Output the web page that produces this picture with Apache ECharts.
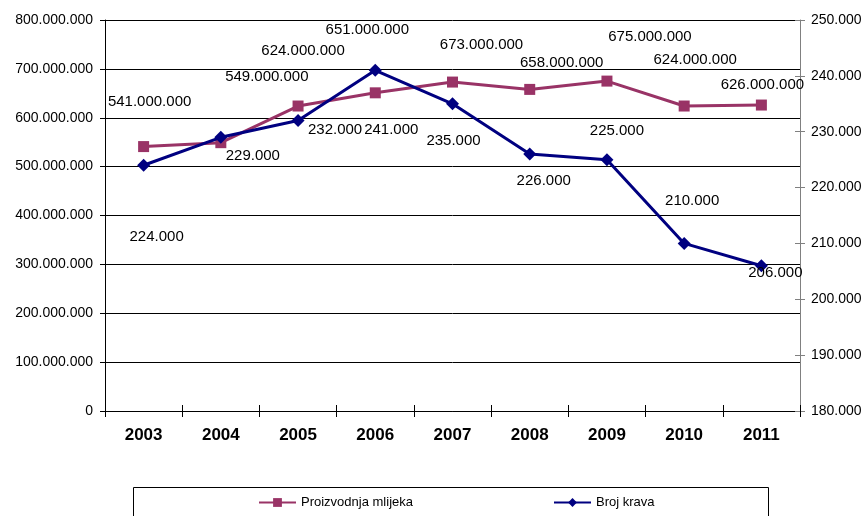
<!DOCTYPE html>
<html><head><meta charset="utf-8">
<script src="https://cdn.jsdelivr.net/npm/echarts@6/dist/echarts.min.js"></script>
<style>html,body{margin:0;padding:0;background:#fff}#c{width:867px;height:516px}</style>
</head><body><div id="c"></div>
<script>
const years = ['2003','2004','2005','2006','2007','2008','2009','2010','2011'];
const milkProduction = [541000000,549000000,624000000,651000000,673000000,658000000,675000000,624000000,626000000];
const cowCount = [224000,229000,232000,241000,235000,226000,225000,210000,206000];
const milkName = 'Proizvodnja mlijeka';
const cowName = 'Broj krava';
const milkLabelOffsets = [[6,-45],[46,-66],[5,-55],[-8,-63],[29,-37],[32,-27],[43,-44],[11,-46],[1,-20]];
const cowLabelOffsets = [[13,72],[32,19],[37,9],[16,60],[1,37],[14,27],[10,-29],[8,-43],[14,7]];

function fmt(v){ return String(v).replace(/\B(?=(\d{3})+(?!\d))/g,'.'); }
const FONT = '"Liberation Sans", Arial, sans-serif';
const chart = echarts.init(document.getElementById('c'));
const labelStyle = {show:true, position:'inside', fontFamily:FONT, fontSize:15, color:'#000', formatter:p=>fmt(p.value)};
chart.setOption({
  animation:false,
  textStyle:{fontFamily:FONT},
  grid:{left:105, right:67, top:20, bottom:105},
  legend:[
    {data:[milkName], left:258, top:496, itemWidth:37, itemHeight:11, textStyle:{fontSize:13, color:'#000', fontFamily:FONT}, itemGap:0, padding:0},
    {data:[cowName], left:553, top:496, itemWidth:37, itemHeight:11, textStyle:{fontSize:13, color:'#000', fontFamily:FONT}, itemGap:0, padding:0}
  ],
  graphic:[{type:'rect', shape:{x:133.5, y:487.5, width:635, height:40}, style:{fill:'none', stroke:'#000', lineWidth:1}, silent:true}],
  xAxis:[
    {type:'category', data:years, boundaryGap:true,
     axisLine:{lineStyle:{color:'#000', width:1}},
     axisTick:{show:true, length:6, lineStyle:{color:'#000'}},
     axisLabel:{fontSize:17, fontWeight:'bold', color:'#000', margin:16, fontFamily:FONT}},
    {type:'category', data:years, boundaryGap:true, position:'bottom',
     axisLine:{show:false}, axisTick:{show:true, inside:true, length:6, lineStyle:{color:'#000'}},
     axisLabel:{show:false}}
  ],
  yAxis:[
    {type:'value', min:0, max:800000000, interval:100000000,
     axisLine:{show:true, lineStyle:{color:'#000'}},
     axisTick:{show:true, length:5, lineStyle:{color:'#000'}},
     splitLine:{show:true, lineStyle:{color:'#000', width:1}},
     axisLabel:{fontSize:14, color:'#000', margin:12, formatter:fmt, fontFamily:FONT}},
    {type:'value', min:180000, max:250000, interval:10000, position:'right',
     axisLine:{show:true, lineStyle:{color:'#808080'}},
     axisTick:{show:true, length:5, lineStyle:{color:'#808080'}},
     splitLine:{show:false},
     axisLabel:{fontSize:14, color:'#000', margin:11, formatter:fmt, fontFamily:FONT}},
    {type:'value', min:180000, max:250000, interval:10000, position:'right', offset:0,
     axisLine:{show:false}, axisTick:{show:true, inside:true, length:5, lineStyle:{color:'#808080'}},
     splitLine:{show:false}, axisLabel:{show:false}},
    {type:'value', min:0, max:800000000, interval:100000000, position:'left',
     axisLine:{show:false}, axisTick:{show:true, inside:true, length:5, lineStyle:{color:'#000'}},
     splitLine:{show:false}, axisLabel:{show:false}}
  ],
  series:[
    {name:milkName, type:'line', yAxisIndex:0, z:3,
     data:milkProduction.map((v,i)=>({value:v, label:{offset:milkLabelOffsets[i]}})),
     symbol:'rect', symbolSize:11, lineStyle:{color:'#993366', width:3}, itemStyle:{color:'#993366'},
     label:labelStyle},
    {name:cowName, type:'line', yAxisIndex:1, z:4,
     data:cowCount.map((v,i)=>({value:v, label:{offset:cowLabelOffsets[i]}})),
     symbol:'diamond', symbolSize:13, lineStyle:{color:'#000080', width:3}, itemStyle:{color:'#000080'},
     label:labelStyle}
  ]
});
</script></body></html>
